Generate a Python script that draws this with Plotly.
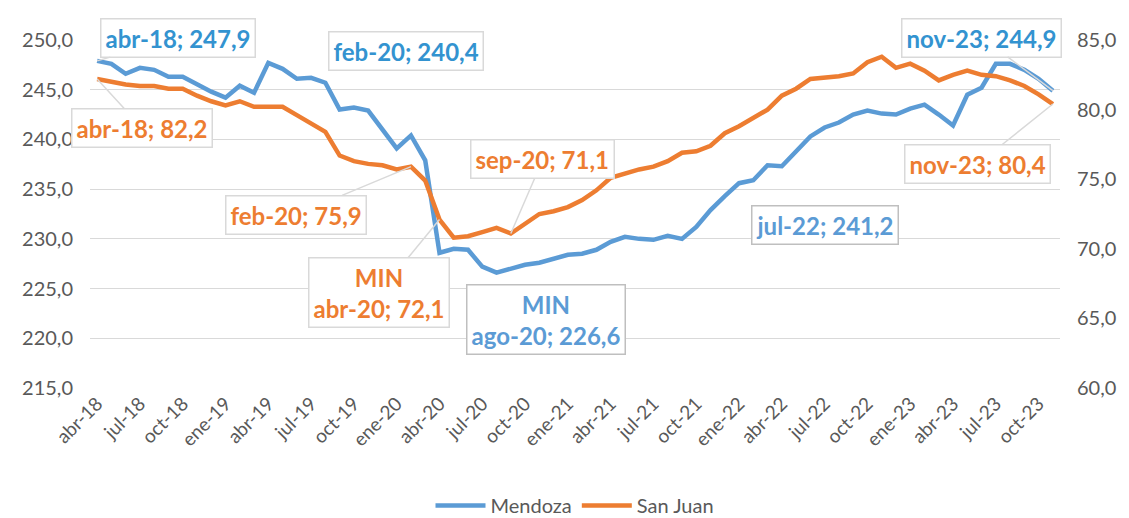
import plotly.graph_objects as go

# ---- data ----
month_abbr = ["ene", "feb", "mar", "abr", "may", "jun", "jul", "ago", "sep", "oct", "nov", "dic"]
categories = []
for yy in range(18, 24):
    for m in range(12):
        if (yy == 18 and m < 3) or (yy == 23 and m > 10):
            continue
        categories.append(f"{month_abbr[m]}-{yy}")

mendoza = [247.9, 247.6, 246.6, 247.2, 247.0, 246.3, 246.3, 245.5, 244.8, 244.2,
           245.4, 244.7, 247.7, 247.1, 246.1, 246.2, 245.7, 243.0, 243.2, 242.9,
           241.0, 239.1, 240.4, 237.9, 228.6, 229.0, 228.9, 227.2, 226.6, 227.0,
           227.4, 227.6, 228.0, 228.4, 228.5, 228.9, 229.7, 230.2, 230.0, 229.9,
           230.3, 230.0, 231.2, 232.9, 234.3, 235.6, 235.9, 237.4, 237.3, 238.8,
           240.3, 241.2, 241.7, 242.5, 242.9, 242.6, 242.5, 243.1, 243.5, 242.5,
           241.4, 244.5, 245.2, 247.6, 247.6, 247.0, 246.1, 244.9]

san_juan = [82.2, 82.0, 81.8, 81.7, 81.7, 81.5, 81.5, 81.0, 80.6, 80.3,
            80.6, 80.2, 80.2, 80.2, 79.6, 79.0, 78.4, 76.7, 76.3, 76.1,
            76.0, 75.7, 75.9, 74.9, 72.1, 70.8, 70.9, 71.2, 71.5, 71.1,
            71.8, 72.5, 72.7, 73.0, 73.5, 74.2, 75.1, 75.4, 75.7, 75.9,
            76.3, 76.9, 77.0, 77.4, 78.3, 78.8, 79.4, 80.0, 81.0, 81.5,
            82.2, 82.3, 82.4, 82.6, 83.4, 83.8, 83.0, 83.3, 82.8, 82.1,
            82.5, 82.8, 82.5, 82.4, 82.1, 81.7, 81.1, 80.4]

left_ticks = [215, 220, 225, 230, 235, 240, 245, 250]
right_ticks = [60, 65, 70, 75, 80, 85]
x_ticks = categories[::3]

# ---- style ----
BLUE = "#5b9bd5"
BLUE_DARK = "#3393d0"
ORANGE = "#ed7d31"
GRID = "#d9d9d9"
TXT = "#595959"
FONT = "Lato"

fig = go.Figure()
fig.add_trace(go.Scatter(x=categories, y=mendoza, name="Mendoza", mode="lines",
                         line=dict(color=BLUE, width=4.5), yaxis="y"))
fig.add_trace(go.Scatter(x=categories, y=san_juan, name="San Juan", mode="lines",
                         line=dict(color=ORANGE, width=4.5), yaxis="y2"))


def label(idx, series, axis, text, color, ax, ay, leader=True, border=GRID):
    vals = mendoza if series == "m" else san_juan
    fig.add_annotation(
        x=categories[idx], y=vals[idx], yref=axis, xref="x",
        text=text, showarrow=True, ax=ax, ay=ay,
        arrowhead=0, arrowwidth=1.5,
        arrowcolor=GRID if leader else "rgba(0,0,0,0)",
        font=dict(family=FONT, size=24, color=color, weight="bold"),
        bgcolor="white", bordercolor=border, borderwidth=1.5, borderpad=4,
        align="center",
    )


label(0, "m", "y", "abr-18; 247,9", BLUE_DARK, 81, -23)
label(22, "m", "y", "feb-20; 240,4", BLUE_DARK, -5, -84, leader=False)
label(28, "m", "y", "MIN<br>ago-20; 226,6", BLUE, 49, 47, leader=False, border="#bfbfbf")
label(51, "m", "y", "jul-22; 241,2", BLUE, 0, 97, leader=False, border="#bfbfbf")
label(67, "m", "y", "nov-23; 244,9", BLUE_DARK, -71, -53)

label(0, "s", "y2", "abr-18; 82,2", ORANGE, 45, 49)
label(22, "s", "y2", "feb-20; 75,9", ORANGE, -115, 48)
label(24, "s", "y2", "MIN<br>abr-20; 72,1", ORANGE, -60, 73)
label(29, "s", "y2", "sep-20; 71,1", ORANGE, 32, -74)
label(67, "s", "y2", "nov-23; 80,4", ORANGE, -75, 60)

# page body has an 8px default margin, so the figure is slightly smaller
fig.update_layout(
    width=1121, height=510,
    margin=dict(l=82, r=69, t=32, b=130, autoexpand=False),
    paper_bgcolor="white", plot_bgcolor="white",
    separators=",.",
    font=dict(family=FONT, color=TXT, size=19),
    showlegend=True,
    legend=dict(orientation="h", x=0.5, xanchor="center", y=-0.338, yanchor="middle",
                font=dict(family=FONT, size=20, color=TXT), itemwidth=50),
    xaxis=dict(type="category", range=[-0.5, len(categories) - 0.5],
               tickmode="array", tickvals=x_ticks, ticktext=x_ticks,
               tickangle=-45, tickfont=dict(family=FONT, size=19, color=TXT),
               showgrid=False, showline=False, ticks="", automargin=False),
    yaxis=dict(range=[215, 250], tickmode="array", tickvals=left_ticks,
               tickformat=".1f", showgrid=True, gridcolor=GRID, gridwidth=1.2,
               zeroline=False, showline=False, ticks="", ticklabelstandoff=16,
               automargin=False, tickfont=dict(family=FONT, size=20, color=TXT)),
    yaxis2=dict(range=[60, 85], tickmode="array", tickvals=right_ticks,
                tickformat=".1f", overlaying="y", side="right", showgrid=False,
                zeroline=False, showline=False, ticks="", ticklabelstandoff=16,
                automargin=False, tickfont=dict(family=FONT, size=20, color=TXT)),
)

fig.write_html("out.html")
